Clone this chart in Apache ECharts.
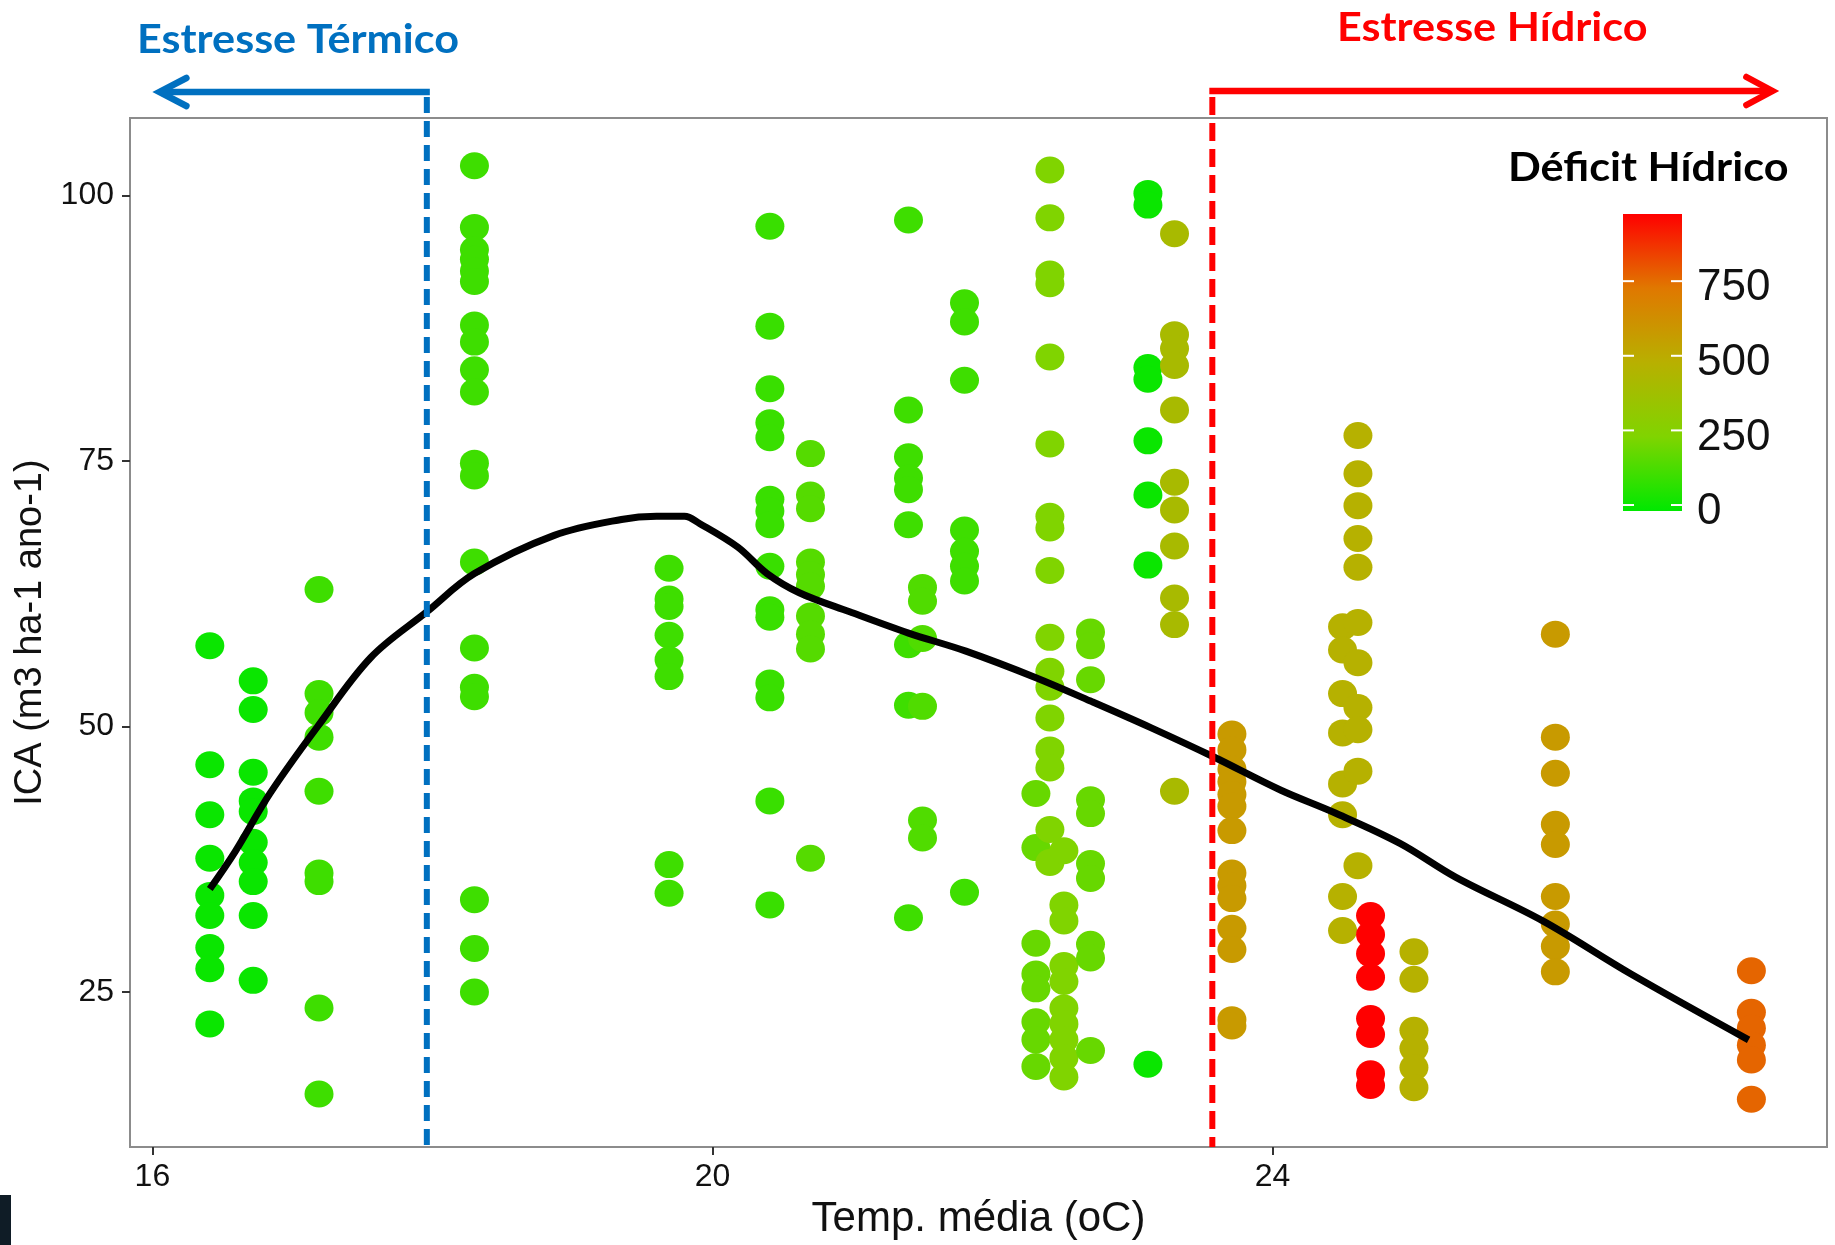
<!DOCTYPE html>
<html>
<head>
<meta charset="utf-8">
<script src="https://cdn.jsdelivr.net/npm/echarts@6/dist/echarts.min.js"></script>
<style>
html,body{margin:0;padding:0;background:#fff;}
#chart{width:1835px;height:1245px;}
</style>
</head>
<body>
<div id="chart"></div>
<script>
// Mean temperature of each site (x)
const temps = [16.41, 16.72, 17.19, 18.30, 19.69, 20.41, 20.70, 21.40, 21.50, 21.80, 22.31, 22.41,
               22.51, 22.70, 23.11, 23.30, 23.71, 24.50, 24.61, 24.70, 25.01, 26.02, 27.42];
// Water deficit of each site (colour)
const deficits = [0, 0, 100, 100, 100, 90, 145, 100, 135, 100, 180, 230,
                  230, 180, 0, 405, 577, 470, 470, 975, 470, 577, 766];
// ICA values of each site (y)
const ica1  = [57.6, 46.4, 41.7, 37.6, 34.1, 32.2, 29.2, 27.2, 22.0];
const ica2  = [54.3, 51.6, 45.7, 43.0, 42.0, 39.1, 37.2, 35.4, 32.2, 26.1];
const ica3  = [62.9, 53.1, 51.3, 49.0, 43.9, 36.2, 35.4, 23.5, 15.4];
const ica4  = [102.8, 97.0, 94.9, 94.0, 92.9, 91.9, 87.8, 86.2, 83.6, 81.5, 74.8, 73.6, 65.5, 57.4, 53.7, 52.8, 33.7, 29.1, 25.0];
const ica5  = [64.9, 62.0, 61.3, 58.6, 56.3, 54.7, 37.0, 34.3];
const ica6  = [97.1, 87.7, 81.8, 78.6, 77.2, 71.4, 70.3, 69.0, 65.1, 61.0, 60.3, 54.1, 52.7, 43.0, 33.2];
const ica7  = [75.7, 71.8, 70.5, 65.5, 64.3, 63.2, 60.4, 58.7, 57.3, 37.6];
const ica8  = [97.7, 79.8, 75.4, 73.4, 72.3, 69.0, 57.7, 52.0, 32.0];
const ica9  = [63.1, 61.8, 58.3, 51.9, 41.2, 39.5];
const ica10 = [89.9, 88.1, 82.6, 68.5, 66.5, 65.1, 63.7, 34.4];
const ica11 = [43.7, 38.6, 29.6, 26.7, 25.3, 22.2, 20.5, 18.0];
const ica12 = [102.4, 97.9, 92.6, 91.7, 84.8, 76.6, 69.8, 68.7, 64.7, 58.4, 55.2, 53.7, 50.8, 47.8, 46.1, 40.3, 37.2];
const ica13 = [38.3, 33.2, 31.7, 27.5, 26.0, 23.5, 22.0, 20.5, 18.8, 17.0];
const ica14 = [58.9, 57.6, 54.4, 43.1, 41.8, 37.1, 35.7, 29.5, 28.2, 19.5];
const ica15 = [100.2, 99.1, 83.8, 82.7, 76.9, 71.8, 65.2, 18.2];
const ica16 = [96.4, 86.9, 85.6, 84.0, 79.8, 73.0, 70.4, 67.0, 62.1, 59.6, 43.9];
const ica17 = [49.3, 47.8, 46.0, 44.8, 43.6, 42.5, 40.2, 36.2, 35.0, 33.8, 31.0, 29.0, 22.4, 21.8];
const ica18 = [59.4, 57.2, 53.1, 49.4, 44.6, 41.7, 34.0, 30.8];
const ica19 = [77.4, 73.8, 70.8, 67.7, 65.0, 59.8, 56.0, 51.8, 49.7, 45.8, 36.9];
const ica20 = [32.2, 30.4, 28.6, 26.4, 22.5, 21.0, 17.3, 16.2];
const ica21 = [28.8, 26.2, 21.4, 19.7, 17.9, 16.0];
const ica22 = [58.7, 49.0, 45.6, 40.8, 38.9, 34.0, 31.4, 29.3, 26.9];
const ica23 = [27.0, 23.1, 21.6, 20.0, 18.6, 14.9];
const icaBySite = [ica1, ica2, ica3, ica4, ica5, ica6, ica7, ica8, ica9, ica10, ica11, ica12,
                   ica13, ica14, ica15, ica16, ica17, ica18, ica19, ica20, ica21, ica22, ica23];
// Smoothed trend (loess) curve
const curveX = [16.41, 16.59, 16.84, 17.18, 17.56, 17.96, 18.30, 18.87, 19.35, 19.60, 19.80, 19.91, 20.18, 20.39,
                20.62, 20.98, 21.40, 21.81, 22.31, 22.70, 23.13, 23.57, 24.06, 24.44, 24.91, 25.31, 25.93, 26.56, 27.40];
const curveY = [34.7, 38.2, 43.7, 50.0, 56.5, 60.8, 64.4, 68.0, 69.5, 69.8, 69.8, 69.1, 66.9, 64.4,
                62.6, 60.8, 58.8, 57.1, 54.6, 52.4, 49.9, 47.2, 44.0, 41.9, 39.0, 35.8, 31.7, 26.7, 20.5];
// Axis ticks
const xTicks = [16, 20, 24];
const yTicks = [25, 50, 75, 100];
// Colour scale
const deficitMin = -20, deficitMax = 975;
const legendBreaks = [0, 250, 500, 750];
const scaleColors = ['#00e800', '#80d400', '#b8b000', '#e07800', '#ff0000'];
// Stress thresholds (temperature)
const thermalLimit = 17.96;
const waterLimit = 23.57;
const arrowLeftEnd = 16.05;
const arrowRightEnd = 27.57;

const points = [];
icaBySite.forEach((vals, i) => {
  vals.forEach(v => points.push([temps[i], v, deficits[i]]));
});
const curve = curveX.map((x, i) => [x, curveY[i]]);

const chart = echarts.init(document.getElementById('chart'), null, {renderer: 'canvas'});
const font = 'Liberation Sans, Arial, sans-serif';
const option = {
  animation: false,
  backgroundColor: '#ffffff',
  grid: {left: 130, right: 8, top: 118, bottom: 95, show: true, borderColor: '#8c8c8c', borderWidth: 2, backgroundColor: 'transparent'},
  xAxis: {
    type: 'value', min: 15.84, max: 27.96,
    axisLine: {show: true, lineStyle: {color: '#8c8c8c', width: 2}},
    splitLine: {show: false},
    axisTick: {show: true, customValues: xTicks, length: 8, lineStyle: {color: '#333', width: 2}},
    axisLabel: {customValues: xTicks, fontSize: 32, color: '#111', margin: 14, fontFamily: font},
    name: 'Temp. média (oC)', nameLocation: 'middle', nameGap: 43,
    nameTextStyle: {fontSize: 42, color: '#111', fontFamily: font}
  },
  yAxis: {
    type: 'value', min: 10.4, max: 107.3,
    axisLine: {show: true, lineStyle: {color: '#8c8c8c', width: 2}},
    splitLine: {show: false},
    axisTick: {show: true, customValues: yTicks, length: 8, lineStyle: {color: '#333', width: 2}},
    axisLabel: {customValues: yTicks, fontSize: 32, color: '#111', margin: 16, fontFamily: font},
    name: 'ICA (m3 ha-1 ano-1)', nameLocation: 'middle', nameGap: 76, nameRotate: 90,
    nameTextStyle: {fontSize: 38, color: '#111', fontFamily: font}
  },
  visualMap: {
    show: false, type: 'continuous', min: deficitMin, max: deficitMax, dimension: 2, seriesIndex: 0,
    inRange: {color: scaleColors}
  },
  series: [
    {
      type: 'scatter', data: points, symbol: 'circle', symbolSize: [29, 27], z: 2,
      itemStyle: {opacity: 1}
    },
    {
      type: 'line', data: curve, smooth: 0.35, showSymbol: false, symbol: 'none', z: 5,
      lineStyle: {color: '#000', width: 7}
    }
  ]
};
chart.setOption(option);

const px = v => chart.convertToPixel({xAxisIndex: 0}, v);
const gThermal = px(thermalLimit);
const gWater = px(waterLimit);
const gLeft = px(arrowLeftEnd);
const gRight = px(arrowRightEnd);
const yArrowB = 92, yArrowR = 91;
const legX = 1623, legW = 59, legTop = 214, legBot = 511;
const valToY = v => legBot - (v - deficitMin) / (deficitMax - deficitMin) * (legBot - legTop);

const graphics = [
  // dashed threshold lines
  {type: 'line', z: 10, shape: {x1: gThermal, y1: 97, x2: gThermal, y2: 1147},
   style: {stroke: '#0070c0', lineWidth: 6, lineDash: [16, 8]}},
  {type: 'line', z: 10, shape: {x1: gWater, y1: 97, x2: gWater, y2: 1147},
   style: {stroke: '#ff0000', lineWidth: 6, lineDash: [18, 8]}},
  // arrows
  {type: 'line', z: 10, shape: {x1: gThermal + 3, y1: yArrowB, x2: gLeft + 2, y2: yArrowB},
   style: {stroke: '#0070c0', lineWidth: 6.5}},
  {type: 'polyline', z: 10, shape: {points: [[gLeft + 27, yArrowB - 14], [gLeft, yArrowB], [gLeft + 27, yArrowB + 14]]},
   style: {stroke: '#0070c0', lineWidth: 6.5, fill: null, lineCap: 'round', lineJoin: 'miter'}},
  {type: 'line', z: 10, shape: {x1: gWater - 3, y1: yArrowR, x2: gRight - 2, y2: yArrowR},
   style: {stroke: '#ff0000', lineWidth: 6.5}},
  {type: 'polyline', z: 10, shape: {points: [[gRight - 26, yArrowR - 14], [gRight, yArrowR], [gRight - 26, yArrowR + 14]]},
   style: {stroke: '#ff0000', lineWidth: 6.5, fill: null, lineCap: 'round', lineJoin: 'miter'}},
  // titles
  {type: 'text', z: 10, x: 137, y: 40, scaleX: 1.08,
   style: {text: 'Estresse Térmico', fill: '#0070c0', font: 'bold 40px Lato, "Open Sans", sans-serif', textAlign: 'left', textVerticalAlign: 'middle'}},
  {type: 'text', z: 10, x: 1337, y: 28, scaleX: 1.08,
   style: {text: 'Estresse Hídrico', fill: '#ff0000', font: 'bold 40px Lato, "Open Sans", sans-serif', textAlign: 'left', textVerticalAlign: 'middle'}},
  {type: 'text', z: 10, x: 1508, y: 168, scaleX: 1.08,
   style: {text: 'Déficit Hídrico', fill: '#000', font: 'bold 40px Lato, "Open Sans", sans-serif', textAlign: 'left', textVerticalAlign: 'middle'}},
  // colour bar
  {type: 'rect', z: 10, shape: {x: legX, y: legTop, width: legW, height: legBot - legTop},
   style: {fill: new echarts.graphic.LinearGradient(0, 1, 0, 0,
     scaleColors.map((c, i) => ({offset: i / (scaleColors.length - 1), color: c})))}},
  // artifact at bottom-left corner
  {type: 'rect', z: 10, shape: {x: 0, y: 1195, width: 11, height: 50}, style: {fill: '#0f1c26'}}
];
legendBreaks.forEach(b => {
  const y = valToY(b);
  graphics.push({type: 'line', z: 11, shape: {x1: legX, y1: y, x2: legX + 11, y2: y}, style: {stroke: '#fff', lineWidth: 2}});
  graphics.push({type: 'line', z: 11, shape: {x1: legX + legW - 11, y1: y, x2: legX + legW, y2: y}, style: {stroke: '#fff', lineWidth: 2}});
  graphics.push({type: 'text', z: 11, x: 1697, y: y + 7,
    style: {text: String(b), fill: '#111', font: '44px "Liberation Sans", Arial, sans-serif', textAlign: 'left', textVerticalAlign: 'middle'}});
});
chart.setOption({graphic: graphics});
</script>
</body>
</html>
